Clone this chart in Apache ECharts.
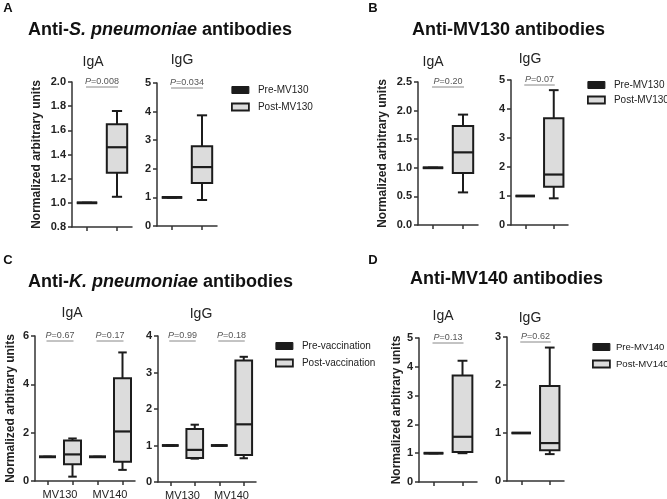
<!DOCTYPE html>
<html>
<head>
<meta charset="utf-8">
<script src="https://cdn.jsdelivr.net/npm/echarts@6/dist/echarts.min.js"></script>
<style>
  html, body { margin: 0; padding: 0; background: #fff; }
  #main { width: 667px; height: 499px; }
</style>
</head>
<body>
<div id="main"></div>
<script>
// categories
const pairCats = ['Pre', 'Post'];
const kpCats = ['MV130 pre', 'MV130 post', 'MV140 pre', 'MV140 post'];
const kpGroups = ['MV130', 'MV140'];

// boxes: [min, Q1, median, Q3, max]
const preBox = [1, 1, 1, 1, 1];
const spIgA = [1.05, 1.25, 1.46, 1.65, 1.76];
const spIgG = [0.91, 1.5, 2.06, 2.79, 3.87];
const mv130IgA = [0.57, 0.91, 1.27, 1.73, 1.93];
const mv130IgG = [0.92, 1.32, 1.74, 3.68, 4.65];
const kpIgA130 = [0.18, 0.69, 1.1, 1.68, 1.76];
const kpIgA140 = [0.46, 0.8, 2.05, 4.25, 5.32];
const kpIgG130 = [0.64, 0.66, 0.88, 1.45, 1.57];
const kpIgG140 = [0.65, 0.74, 1.58, 3.33, 3.43];
const mv140IgA = [1.0, 1.04, 1.57, 3.7, 4.21];
const mv140IgG = [0.56, 0.64, 0.79, 1.98, 2.78];

// y axes: [min, max, interval]
const spIgAAxis = [0.8, 2.0, 0.2];
const spIgGAxis = [0, 5, 1];
const mv130IgAAxis = [0, 2.5, 0.5];
const mv130IgGAxis = [0, 5, 1];
const kpIgAAxis = [0, 6, 2];
const kpIgGAxis = [0, 4, 1];
const mv140IgAAxis = [0, 5, 1];
const mv140IgGAxis = [0, 3, 1];

// P values
const spP = ['0.008', '0.034'];
const mv130P = ['0.20', '0.07'];
const kpIgAP = ['0.67', '0.17'];
const kpIgGP = ['0.99', '0.18'];
const mv140P = ['0.13', '0.62'];

const FONT = '"Liberation Sans", Arial, Helvetica, sans-serif';
const INK = '#1c1c1c';
const BOXFILL = '#dcdcdc';

const plots = [
  { title: 'IgA', tpos: [93, 62], cats: pairCats, axis: spIgAAxis, dec: 1, pre: [preBox], post: [spIgA], p: [spP[0]],
    grid: { left: 72, top: 82, width: 60, height: 145 }, nameGap: 29, leg: 0 },
  { title: 'IgG', tpos: [182, 60], cats: pairCats, axis: spIgGAxis, dec: 0, pre: [preBox], post: [spIgG], p: [spP[1]],
    grid: { left: 157, top: 83, width: 60, height: 143 }, leg: 0 },
  { title: 'IgA', tpos: [433, 62], cats: pairCats, axis: mv130IgAAxis, dec: 1, pre: [preBox], post: [mv130IgA], p: [mv130P[0]],
    grid: { left: 418, top: 82, width: 60, height: 143 }, nameGap: 29, leg: 1 },
  { title: 'IgG', tpos: [530, 59], cats: pairCats, axis: mv130IgGAxis, dec: 0, pre: [preBox], post: [mv130IgG], p: [mv130P[1]],
    grid: { left: 511, top: 80, width: 57, height: 145 }, leg: 1 },
  { title: 'IgA', tpos: [72, 313], cats: kpCats, axis: kpIgAAxis, dec: 0, pre: [preBox, preBox], post: [kpIgA130, kpIgA140], p: kpIgAP,
    grid: { left: 35, top: 336, width: 100, height: 145 }, nameGap: 18, leg: 2, groups: true },
  { title: 'IgG', tpos: [201, 314], cats: kpCats, axis: kpIgGAxis, dec: 0, pre: [preBox, preBox], post: [kpIgG130, kpIgG140], p: kpIgGP,
    grid: { left: 158, top: 336, width: 98, height: 146 }, leg: 2, groups: true },
  { title: 'IgA', tpos: [443, 316], cats: pairCats, axis: mv140IgAAxis, dec: 0, pre: [preBox], post: [mv140IgA], p: [mv140P[0]],
    grid: { left: 419, top: 338, width: 58, height: 144 }, nameGap: 15, leg: 3 },
  { title: 'IgG', tpos: [530, 318], cats: pairCats, axis: mv140IgGAxis, dec: 0, pre: [preBox], post: [mv140IgG], p: [mv140P[1]],
    grid: { left: 507, top: 337, width: 57, height: 144 }, leg: 3 }
];

const legendNames = [
  ['Pre-MV130', 'Post-MV130'],
  ['Pre-MV130', 'Post-MV130'],
  ['Pre-vaccination', 'Post-vaccination'],
  ['Pre-MV140', 'Post-MV140']
];
// left, top, row gap, text pad, font size
const legendPos = [[231, 85, 7, 4, 10], [587, 80, 5, 4, 10], [275, 341, 7, 4, 10], [592, 342, 7, 1, 9.6]];

function renderBox(params, api) {
  const c = api.value(0);
  const lo = api.coord([c, api.value(1)]);
  const q1 = api.coord([c, api.value(2)]);
  const md = api.coord([c, api.value(3)]);
  const q3 = api.coord([c, api.value(4)]);
  const hi = api.coord([c, api.value(5)]);
  const w = api.size([1, 0])[0] * 0.68;
  const x = lo[0];
  const ln = { stroke: INK, lineWidth: 2 };
  const flat = q3[1] === q1[1];
  return {
    type: 'group',
    children: [
      { type: 'line', shape: { x1: x, y1: hi[1], x2: x, y2: q3[1] }, style: ln },
      { type: 'line', shape: { x1: x, y1: q1[1], x2: x, y2: lo[1] }, style: ln },
      { type: 'line', shape: { x1: x - w / 4, y1: hi[1], x2: x + w / 4, y2: hi[1] }, style: ln },
      { type: 'line', shape: { x1: x - w / 4, y1: lo[1], x2: x + w / 4, y2: lo[1] }, style: ln },
      { type: 'rect', shape: { x: x - w / 2, y: q3[1], width: w, height: q1[1] - q3[1] },
        style: { fill: api.visual('color'), stroke: INK, lineWidth: 2 } },
      { type: 'line', shape: { x1: x - w / 2, y1: md[1], x2: x + w / 2, y2: md[1] },
        style: { stroke: INK, lineWidth: flat ? 2.8 : 2.2 } }
    ]
  };
}

const grids = [], xAxes = [], yAxes = [], series = [];
const axisStyle = { color: '#333', width: 1.5 };

plots.forEach(function (pl, g) {
  grids.push(pl.grid);
  const xi = xAxes.length;
  xAxes.push({
    gridIndex: g, type: 'category', data: pl.cats,
    axisLine: { lineStyle: axisStyle },
    axisTick: { show: true, alignWithLabel: true, interval: 0, length: 4, lineStyle: axisStyle },
    axisLabel: { show: false, interval: 0 }, splitLine: { show: false }
  });
  if (pl.groups) {
    xAxes.push({
      gridIndex: g, type: 'category', data: kpGroups, position: 'bottom',
      axisLine: { show: false }, axisTick: { show: false }, splitLine: { show: false },
      axisLabel: { fontSize: 11, color: '#222', margin: 8, fontFamily: FONT, interval: 0 }
    });
  }
  yAxes.push({
    gridIndex: g, type: 'value', min: pl.axis[0], max: pl.axis[1], interval: pl.axis[2],
    axisLine: { show: true, lineStyle: axisStyle },
    axisTick: { show: true, length: 4, lineStyle: axisStyle },
    splitLine: { show: false },
    axisLabel: {
      fontSize: 11, fontWeight: 'bold', color: '#222', margin: 6, fontFamily: FONT,
      formatter: (function (d) { return function (v) { return v.toFixed(d); }; })(pl.dec)
    },
    name: pl.nameGap !== undefined ? 'Normalized arbitrary units' : '',
    nameLocation: 'middle', nameGap: pl.nameGap || 0,
    nameTextStyle: { fontSize: 12, fontWeight: 'bold', color: '#222', fontFamily: FONT }
  });
  const names = legendNames[pl.leg];
  series.push({
    type: 'custom', name: names[0], xAxisIndex: xi, yAxisIndex: g,
    renderItem: renderBox, itemStyle: { color: INK },
    encode: { x: 0, y: [1, 2, 3, 4, 5] },
    data: pl.pre.map(function (b, i) { return [2 * i].concat(b); })
  });
  series.push({
    type: 'custom', name: names[1], xAxisIndex: xi, yAxisIndex: g,
    renderItem: renderBox, itemStyle: { color: BOXFILL },
    encode: { x: 0, y: [1, 2, 3, 4, 5] },
    data: pl.post.map(function (b, i) { return [2 * i + 1].concat(b); })
  });
  pl.xi = xi;
});

const legends = legendNames.map(function (nm, k) {
  const lp = legendPos[k];
  return {
    orient: 'vertical', left: lp[0], top: lp[1], itemGap: lp[2],
    padding: 0, itemWidth: 17, itemHeight: 7, selectedMode: false,
    textStyle: { fontSize: lp[4], color: '#222', fontFamily: FONT, padding: [0, 0, 0, lp[3]] },
    data: [
      { name: nm[0], icon: 'rect', itemStyle: { color: INK, borderColor: INK, borderWidth: 1 } },
      { name: nm[1], icon: 'rect', itemStyle: { color: BOXFILL, borderColor: INK, borderWidth: 1.8 } }
    ]
  };
});

const myChart = echarts.init(document.getElementById('main'));
myChart.setOption({
  animation: false,
  textStyle: { fontFamily: FONT },
  grid: grids.map(function (gr) { return Object.assign({ outerBoundsMode: 'none', containLabel: false }, gr); }),
  xAxis: xAxes,
  yAxis: yAxes,
  legend: legends,
  series: series
});

// annotations: panel letters, titles, sub-titles, P values
const gfx = [];
function txt(x, y, text, extra) {
  gfx.push({
    type: 'text', x: x, y: y,
    style: Object.assign({ text: text, fontFamily: FONT, fill: '#111', align: 'center', verticalAlign: 'middle',
      textAlign: 'center', textVerticalAlign: 'middle' }, extra)
  });
}
[['A', 8, 8], ['B', 373, 8], ['C', 8, 260], ['D', 373, 260]].forEach(function (l) {
  txt(l[1], l[2], l[0], { fontSize: 13, fontWeight: 'bold' });
});
const titleRich = {
  b: { fontWeight: 'bold', fontSize: 18, fill: '#111', fontFamily: FONT },
  i: { fontWeight: 'bold', fontStyle: 'italic', fontSize: 18, fill: '#111', fontFamily: FONT }
};
[
  ['{b|Anti-}{i|S. pneumoniae}{b| antibodies}', 28, 30],
  ['{b|Anti-MV130 antibodies}', 412, 30],
  ['{b|Anti-}{i|K. pneumoniae}{b| antibodies}', 28, 282],
  ['{b|Anti-MV140 antibodies}', 410, 279]
].forEach(function (t) {
  txt(t[1], t[2], t[0], { rich: titleRich, align: 'left', textAlign: 'left' });
});
plots.forEach(function (pl, g) {
  txt(pl.tpos[0], pl.tpos[1], pl.title, { fontSize: 14, fill: '#222' });
  pl.p.forEach(function (pv, i) {
    const a = myChart.convertToPixel({ xAxisIndex: pl.xi, yAxisIndex: g }, [2 * i, pl.axis[1]]);
    const b = myChart.convertToPixel({ xAxisIndex: pl.xi, yAxisIndex: g }, [2 * i + 1, pl.axis[1]]);
    txt((a[0] + b[0]) / 2, a[1] - 0.5, '{i|P}=' + pv, {
      fontSize: 9, fill: '#555',
      rich: { i: { fontStyle: 'italic', fontSize: 9, fill: '#555', fontFamily: FONT } }
    });
    gfx.push({
      type: 'line', shape: { x1: a[0] - 1, y1: a[1] + 5, x2: b[0] + 1, y2: a[1] + 5 },
      style: { stroke: '#888', lineWidth: 1 }
    });
  });
});
myChart.setOption({ graphic: gfx });
</script>
</body>
</html>
